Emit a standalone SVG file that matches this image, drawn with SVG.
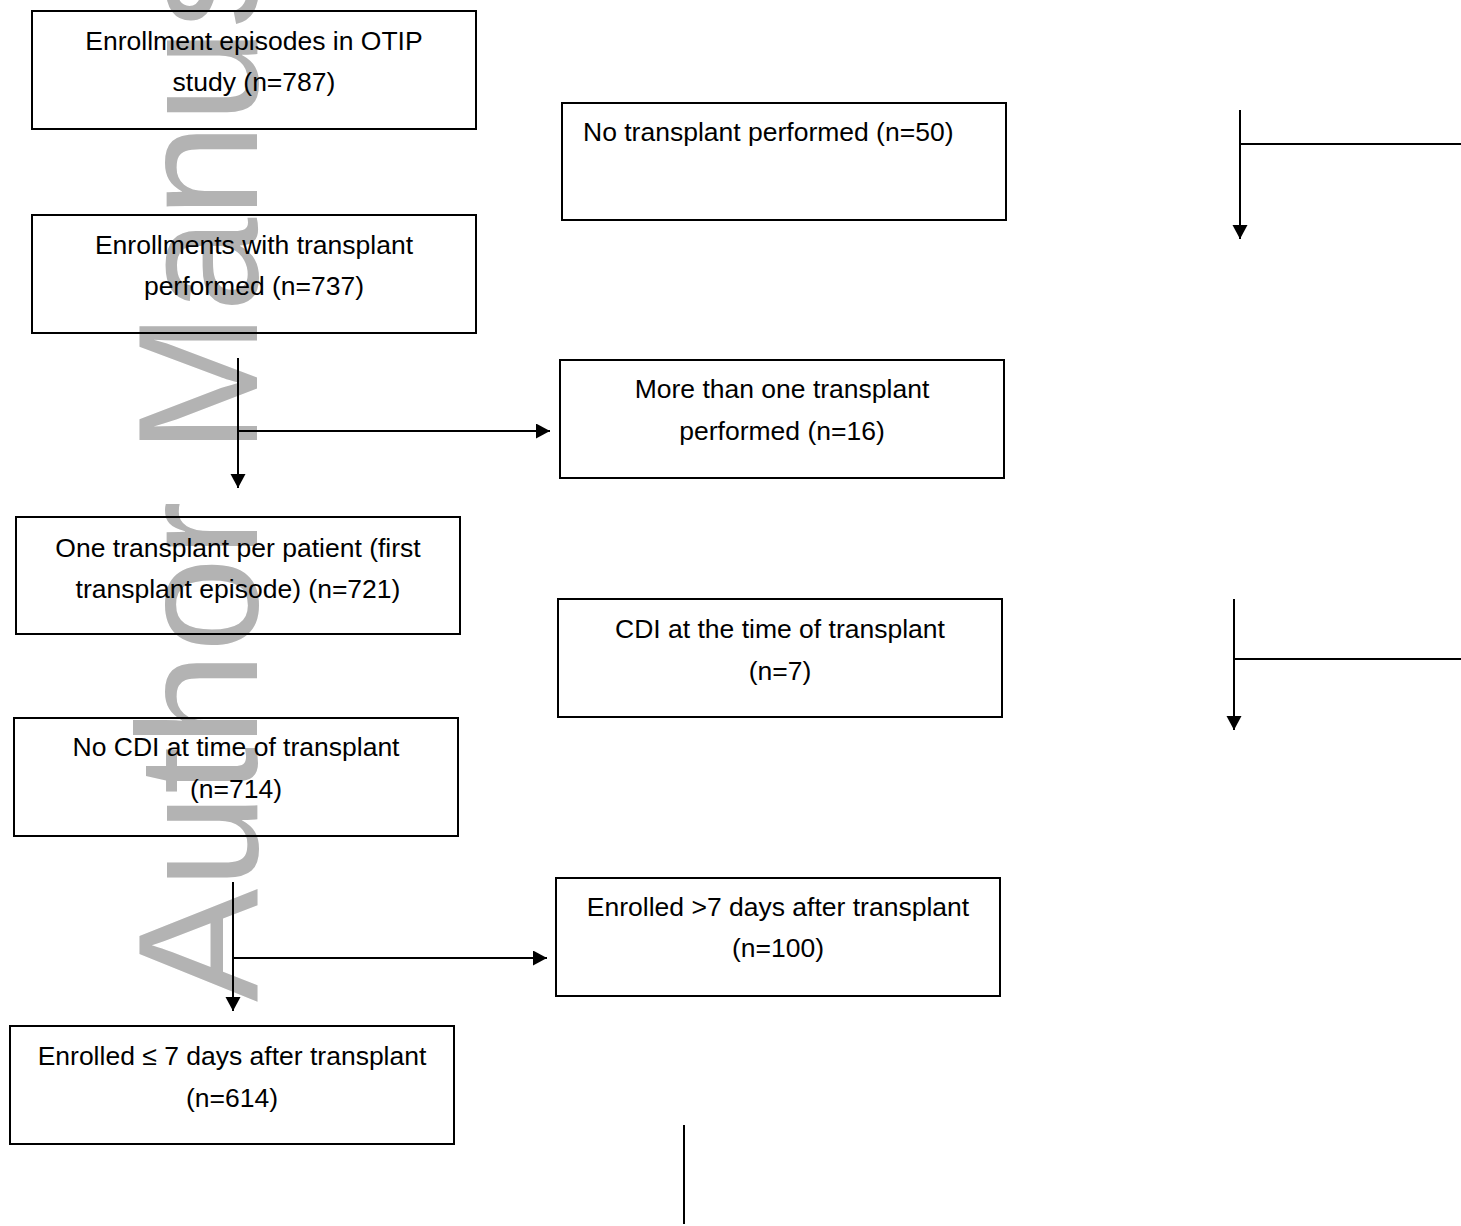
<svg xmlns="http://www.w3.org/2000/svg" width="1461" height="1226" viewBox="0 0 1461 1226">
<style>
.box{fill:none;stroke:#000;stroke-width:2}
.t{font-family:"Liberation Sans",Arial,sans-serif;font-size:26.5px;fill:#000;text-anchor:middle}
.tl{text-anchor:start}
.c{fill:none;stroke:#000;stroke-width:2}
.wm{font-family:"Liberation Sans",Arial,sans-serif;font-size:170px;fill:#b3b3b3}
</style>
<defs>
<marker id="ah" markerUnits="userSpaceOnUse" markerWidth="16" markerHeight="16" refX="14" refY="7.5" orient="auto">
<path d="M0,0 L14,7.5 L0,15 z" fill="#000"/>
</marker>
</defs>
<rect width="1461" height="1226" fill="#fff"/>
<text class="wm" transform="translate(257,1002) rotate(-90)">Author Manuscript</text>

<g id="n1"><rect class="box" x="32" y="11" width="444" height="118"/>
<text class="t" x="254" y="50">Enrollment episodes in OTIP</text>
<text class="t" x="254" y="91">study (n=787)</text></g>

<g id="n2"><rect class="box" x="32" y="215" width="444" height="118"/>
<text class="t" x="254" y="254">Enrollments with transplant</text>
<text class="t" x="254" y="295">performed (n=737)</text></g>

<g id="n3"><rect class="box" x="16" y="517" width="444" height="117"/>
<text class="t" x="238" y="557">One transplant per patient (first</text>
<text class="t" x="238" y="598">transplant episode) (n=721)</text></g>

<g id="n4"><rect class="box" x="14" y="718" width="444" height="118"/>
<text class="t" x="236" y="756">No CDI at time of transplant</text>
<text class="t" x="236" y="798">(n=714)</text></g>

<g id="n5"><rect class="box" x="10" y="1026" width="444" height="118"/>
<text class="t" x="232" y="1065">Enrolled ≤ 7 days after transplant</text>
<text class="t" x="232" y="1107">(n=614)</text></g>

<g id="n6"><rect class="box" x="562" y="103" width="444" height="117"/>
<text class="t tl" x="583" y="141">No transplant performed (n=50)</text></g>

<g id="n7"><rect class="box" x="560" y="360" width="444" height="118"/>
<text class="t" x="782" y="398">More than one transplant</text>
<text class="t" x="782" y="440">performed (n=16)</text></g>

<g id="n8"><rect class="box" x="558" y="599" width="444" height="118"/>
<text class="t" x="780" y="638">CDI at the time of transplant</text>
<text class="t" x="780" y="680">(n=7)</text></g>

<g id="n9"><rect class="box" x="556" y="878" width="444" height="118"/>
<text class="t" x="778" y="916">Enrolled &gt;7 days after transplant</text>
<text class="t" x="778" y="957">(n=100)</text></g>

<g id="connectors">
<line class="c" x1="238" y1="358" x2="238" y2="488" marker-end="url(#ah)"/>
<line class="c" x1="238" y1="431" x2="550" y2="431" marker-end="url(#ah)"/>
<line class="c" x1="233" y1="882" x2="233" y2="1011" marker-end="url(#ah)"/>
<line class="c" x1="233" y1="958" x2="547" y2="958" marker-end="url(#ah)"/>
<line class="c" x1="1240" y1="110" x2="1240" y2="239" marker-end="url(#ah)"/>
<line class="c" x1="1240" y1="144" x2="1461" y2="144"/>
<line class="c" x1="1234" y1="599" x2="1234" y2="730" marker-end="url(#ah)"/>
<line class="c" x1="1234" y1="659" x2="1461" y2="659"/>
<line class="c" x1="684" y1="1125" x2="684" y2="1224"/>
</g>
</svg>
